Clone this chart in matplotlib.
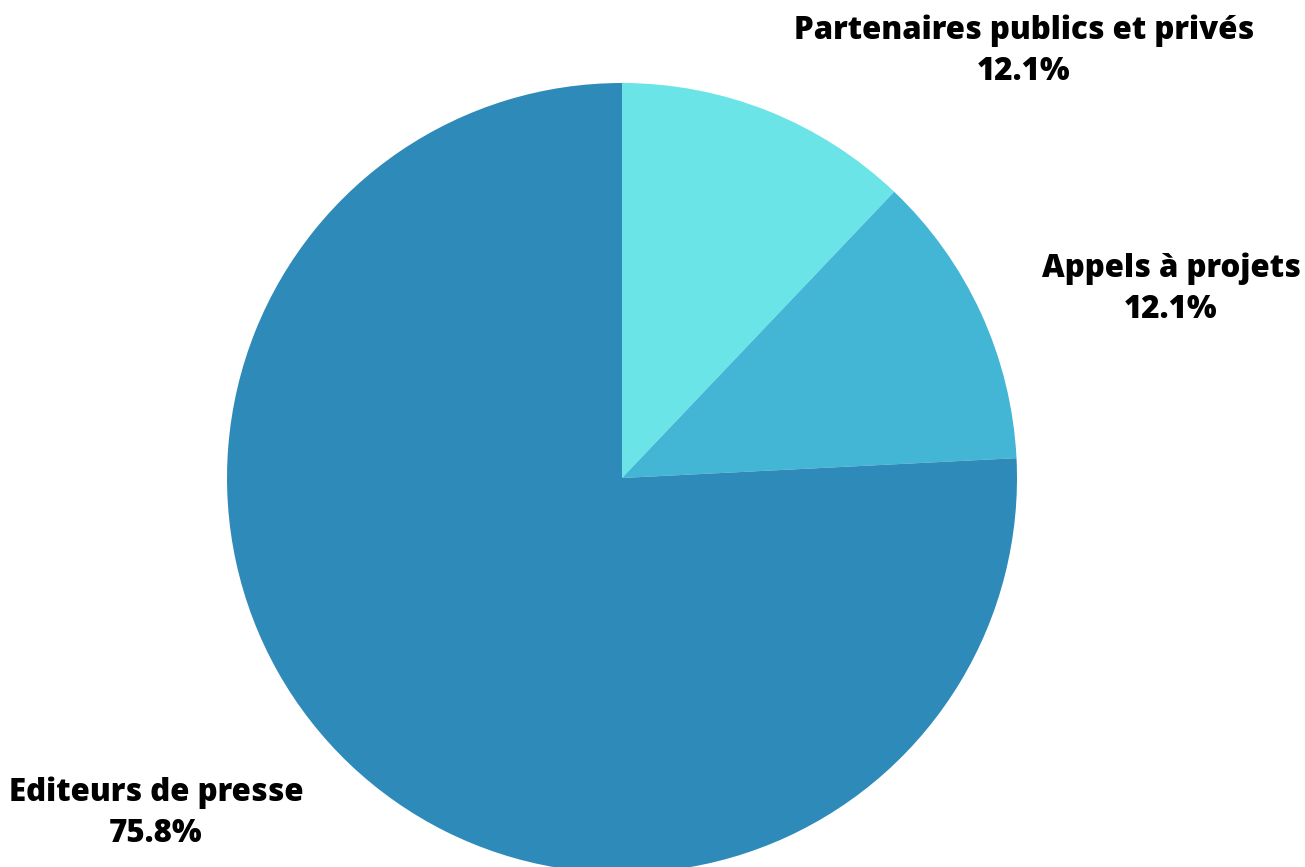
import matplotlib
matplotlib.use("Agg")
import matplotlib.pyplot as plt

categories = ["Partenaires publics et privés", "Appels à projets", "Editeurs de presse"]
values = [12.1, 12.1, 75.8]
colors = ["#6BE4E8", "#43B6D5", "#2E8BB9"]

fig = plt.figure(figsize=(13.05, 8.67), dpi=100)
ax = fig.add_axes([0, 0, 1, 1])
ax.pie(values, colors=colors, startangle=90, counterclock=False,
       radius=1, center=(0, 0), wedgeprops=dict(linewidth=0))
ax.set_xlim(-1.5747, 1.7291)
ax.set_ylim(-0.9848, 1.2101)
ax.set_aspect("auto")
ax.axis("off")

label_pos = [(1.0177, 1.081), (1.39, 0.478), (-1.18, -0.848)]
for cat, v, (x, y) in zip(categories, values, label_pos):
    ax.text(x, y, f"{cat}\n{v:.1f}%", ha="center", va="center",
            fontsize=22.5, fontweight="heavy", family=["Open Sans", "DejaVu Sans"],
            linespacing=1.38, color="black")

fig.savefig("out.png", dpi=100)
